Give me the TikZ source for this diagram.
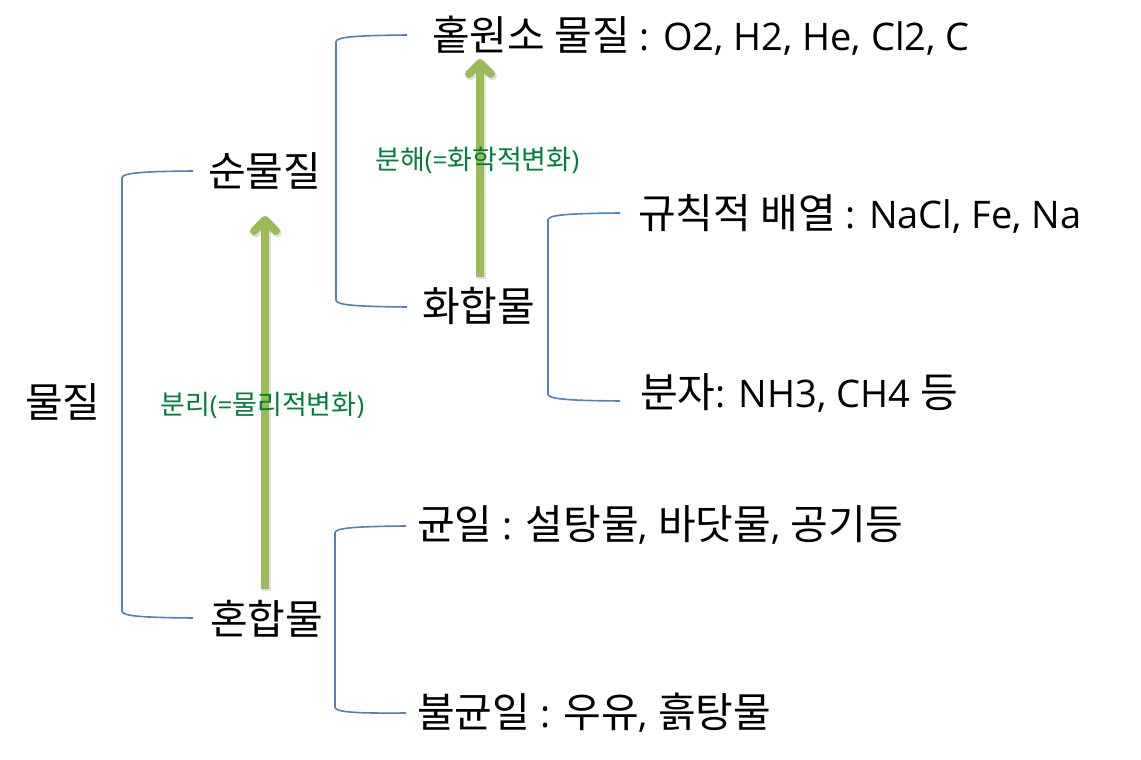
\documentclass[tikz,border=0pt]{standalone}
\usepackage{fontspec}
\setmainfont{Open Sans}
\newfontfamily\kr{Noto Sans CJK KR}
\usetikzlibrary{arrows.meta}
\definecolor{brblue}{RGB}{79,129,189}
\definecolor{argreen}{RGB}{155,187,89}
\definecolor{lbgreen}{RGB}{0,128,60}
\tikzset{
  big/.style={anchor=west,inner sep=0pt,font=\fontsize{38}{42}\selectfont},
  lbl/.style={anchor=west,inner sep=0pt,text=lbgreen,font=\fontsize{26}{29}\selectfont},
  brk/.style={draw=brblue,line width=1.6pt},
  garrow/.style={draw=argreen,line width=8pt,-{Straight Barb[length=11pt,width=22pt,round]}},
  gshadow/.style={draw=black,opacity=0.12,line width=9pt,-{Straight Barb[length=11pt,width=22pt,round]}},
}
\newcommand{\HK}[1]{{\kr\fontsize{41}{45}\selectfont #1}}
\newcommand{\SK}[1]{{\kr\fontsize{27}{30}\selectfont #1}}
\begin{document}
\begin{tikzpicture}[x=1pt,y=-1pt]
\useasboundingbox (0,0) rectangle (1141,760);
\fill[white] (0,0) rectangle (1141,760);
% coordinates for arrows
\coordinate (a1t) at (265,589);
\coordinate (a1h) at (265,216);
\coordinate (a2t) at (480,277);
\coordinate (a2h) at (480,59);
% arrows (shadow + arrow)
\draw[gshadow] ([shift={(1.5,1.5)}]a1t) -- ([shift={(1.5,1.5)}]a1h);
\draw[gshadow] ([shift={(1.5,1.5)}]a2t) -- ([shift={(1.5,1.5)}]a2h);
\draw[garrow] (a1t) -- (a1h);
\draw[garrow] (a2t) -- (a2h);
% texts
\node[big] (mul) at (25,402) {\HK{물질}};
\node[big] (sun) at (208,171) {\HK{순물질}};
\node[big] (hon) at (210,619) {\HK{혼합물}};
\node[big] (hol) at (432,36) {\HK{홑원소 물질} : O2, H2, He, Cl2, C};
\node[big] (hwa) at (422,306) {\HK{화합물}};
\node[big] (gyu) at (638,214) {\HK{규칙적 배열} : NaCl, Fe, Na};
\node[big] (bun) at (640,393) {\HK{분자}: NH3, CH4 \HK{등}};
\node[big] (gyun) at (417,525) {\HK{균일} : \HK{설탕물}, \HK{바닷물}, \HK{공기등}};
\node[big] (bul) at (417,713) {\HK{불균일} : \HK{우유}, \HK{흙탕물}};
\node[lbl] (l1) at (375,160) {\SK{분해}(=\SK{화학적변화})};
\node[lbl] (l2) at (160,405) {\SK{분리}(=\SK{물리적변화})};
% bracket end coordinates
\coordinate (b1t) at (193,171);
\coordinate (b1b) at (193,618);
\coordinate (b2t) at (407,35);
\coordinate (b2b) at (407,307);
\coordinate (b3t) at (620,213);
\coordinate (b3b) at (620,401);
\coordinate (b4t) at (406,526);
\coordinate (b4b) at (406,713);
% brackets
\draw[brk] (b1t) .. controls (140,171.5) and (122,173) .. (122,178) -- (122,611) .. controls (122,616) and (140,617.5) .. (b1b);
\draw[brk] (b2t) .. controls (354,35.5) and (336,37) .. (336,42) -- (336,300) .. controls (336,305) and (354,306.5) .. (b2b);
\draw[brk] (b3t) .. controls (566,213.5) and (548,215) .. (548,220) -- (548,394) .. controls (548,399) and (566,400.5) .. (b3b);
\draw[brk] (b4t) .. controls (353,526.5) and (335,528) .. (335,533) -- (335,707) .. controls (335,712) and (353,713.5) .. (b4b);
\end{tikzpicture}
\end{document}
